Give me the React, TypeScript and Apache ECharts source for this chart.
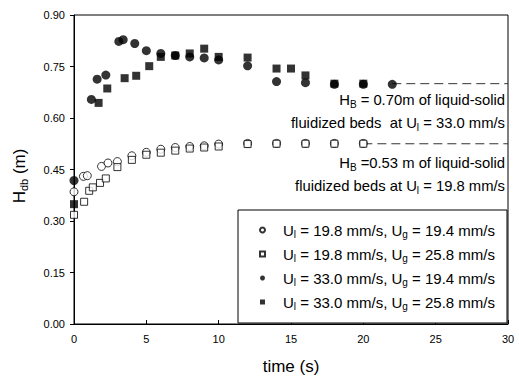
import React, { useEffect, useRef } from "react";
import * as echarts from "echarts";

const FONT = "'Liberation Sans', Arial, sans-serif";

// Ul = 19.8 mm/s, Ug = 19.4 mm/s (open circles)
const tOpenCircle = [0, 0.65, 0.92, 1.9, 2.35, 3.0, 4.0, 5.0, 6.0, 7.0, 8.0, 9.0, 10.0, 12, 14, 16, 18, 20];
const hOpenCircle = [0.385, 0.43, 0.432, 0.459, 0.469, 0.473, 0.49, 0.5, 0.509, 0.514, 0.517, 0.519, 0.524, 0.526, 0.526, 0.526, 0.526, 0.526];

// Ul = 19.8 mm/s, Ug = 25.8 mm/s (open squares)
const tOpenSquare = [0, 0.7, 1.05, 1.3, 1.8, 2.2, 3.0, 4.0, 5.0, 6.0, 7.0, 8.0, 9.0, 10.0, 12, 14, 16, 18, 20];
const hOpenSquare = [0.318, 0.356, 0.388, 0.398, 0.411, 0.424, 0.457, 0.478, 0.493, 0.499, 0.505, 0.511, 0.514, 0.517, 0.524, 0.525, 0.525, 0.525, 0.525];

// Ul = 33.0 mm/s, Ug = 19.4 mm/s (filled circles)
const tFilledCircle = [0, 1.2, 1.6, 2.2, 3.1, 3.4, 4.2, 5, 6, 7, 8, 9, 10, 12, 14, 16, 18, 20, 22];
const hFilledCircle = [0.418, 0.654, 0.713, 0.725, 0.823, 0.828, 0.817, 0.796, 0.788, 0.782, 0.778, 0.775, 0.769, 0.752, 0.706, 0.703, 0.698, 0.698, 0.698];

// Ul = 33.0 mm/s, Ug = 25.8 mm/s (filled squares)
const tFilledSquare = [0, 1.7, 2.3, 3.5, 4.3, 5.2, 6, 7, 8, 9, 10, 12, 14, 15, 16, 18, 20];
const hFilledSquare = [0.349, 0.644, 0.686, 0.716, 0.723, 0.751, 0.778, 0.782, 0.788, 0.802, 0.778, 0.776, 0.744, 0.744, 0.724, 0.7, 0.7];

// Bed height reference lines (H_B)
const bedLine070 = { t: [22, 30], h: [0.7, 0.7] };
const bedLine053 = { t: [20, 30], h: [0.525, 0.525] };

const ulValues = ["19.8", "19.8", "33.0", "33.0"];
const ugValues = ["19.4", "25.8", "19.4", "25.8"];
const seriesNames = ulValues.map((ul, i) => `Ul = ${ul} mm/s, Ug = ${ugValues[i]} mm/s`);

const xTicks = { min: 0, max: 30, interval: 5 };
const yTicks = { min: 0, max: 0.9, interval: 0.15 };

const zip = (t: number[], h: number[]) => t.map((v, i) => [v, h[i]]);

export default function App() {
  const ref = useRef<HTMLDivElement>(null);
  useEffect(() => {
    if (!ref.current) return;
    const chart = echarts.init(ref.current, undefined, { renderer: "svg" });
    const rich = {
      sp: { width: 13 },
      a: { fontSize: 15, fontFamily: FONT, color: "#000", lineHeight: 18 },
      s: { fontSize: 10, fontFamily: FONT, color: "#000", lineHeight: 10, padding: [8, 0, 0, 0] },
    };
    const legendLabel = (name: string) => {
      const i = seriesNames.indexOf(name);
      return `{sp|}{a|U}{s|l}{a| = ${ulValues[i]} mm/s, U}{s|g}{a| = ${ugValues[i]} mm/s}`;
    };
    const openStyle = { color: "#fff", borderColor: "#000", borderWidth: 1 };
    const filledStyle = { color: "#000", borderColor: "#000", borderWidth: 0 };
    const annotRich = {
      a: { fontSize: 14.8, fontFamily: FONT, color: "#000", lineHeight: 18 },
      s: { fontSize: 10, fontFamily: FONT, color: "#000", lineHeight: 10, padding: [8, 0, 0, 0] },
    };
    chart.setOption({
      animation: false,
      backgroundColor: "#fff",
      grid: { left: 74, right: 11, top: 15, bottom: 52, show: true, borderColor: "#000", borderWidth: 1 },
      xAxis: {
        type: "value",
        min: xTicks.min,
        max: xTicks.max,
        interval: xTicks.interval,
        name: "time (s)",
        nameLocation: "middle",
        nameGap: 34,
        nameTextStyle: { fontSize: 17, fontFamily: FONT, color: "#000" },
        axisLine: { lineStyle: { color: "#000", width: 1 } },
        axisTick: { inside: true, length: 4, lineStyle: { color: "#000" } },
        axisLabel: { fontSize: 11, fontFamily: FONT, color: "#000", margin: 9 },
        splitLine: { show: false },
      },
      yAxis: {
        type: "value",
        min: yTicks.min,
        max: yTicks.max,
        interval: yTicks.interval,
        axisLine: { show: true, lineStyle: { color: "#000", width: 1 } },
        axisTick: { show: true, inside: false, length: 4, lineStyle: { color: "#000" } },
        axisLabel: { fontSize: 11, fontFamily: FONT, color: "#000", margin: 9, formatter: (v: number) => v.toFixed(2) },
        splitLine: { show: false },
      },
      legend: {
        orient: "vertical",
        left: 238,
        top: 210,
        padding: [11, 12, 12, 21],
        itemGap: 6,
        itemWidth: 5,
        itemHeight: 5,
        borderColor: "#000",
        borderWidth: 1,
        backgroundColor: "#fff",
        data: seriesNames.map((n, i) => ({ name: n, icon: i % 2 === 0 ? "circle" : "rect" })),
        formatter: legendLabel,
        textStyle: { rich },
      },
      graphic: [
        {
          type: "text",
          x: 19,
          y: 176,
          rotation: Math.PI / 2,
          style: {
            text: "{a|H}{s|db}{a| (m)}",
            rich: {
              a: { fontSize: 17, fontFamily: FONT, color: "#000", lineHeight: 20 },
              s: { fontSize: 11, fontFamily: FONT, color: "#000", lineHeight: 11, padding: [9, 0, 0, 0] },
            },
            align: "center",
            verticalAlign: "middle",
          },
        },
        {
          type: "text",
          x: 505,
          y: 100,
          style: { text: "{a|H}{s|B}{a| = 0.70m of liquid-solid}", rich: annotRich, align: "right", verticalAlign: "middle" },
        },
        {
          type: "text",
          x: 505,
          y: 123,
          style: { text: "{a|fluidized beds  at U}{s|l}{a| = 33.0 mm/s}", rich: annotRich, align: "right", verticalAlign: "middle" },
        },
        {
          type: "text",
          x: 505,
          y: 163,
          style: { text: "{a|H}{s|B}{a| =0.53 m of liquid-solid}", rich: annotRich, align: "right", verticalAlign: "middle" },
        },
        {
          type: "text",
          x: 505,
          y: 186,
          style: { text: "{a|fluidized beds at U}{s|l}{a| = 19.8 mm/s}", rich: annotRich, align: "right", verticalAlign: "middle" },
        },
      ],
      series: [
        {
          type: "line",
          data: zip(bedLine070.t, bedLine070.h),
          symbol: "none",
          lineStyle: { color: "#333", width: 1, type: [9, 5] },
          silent: true,
          z: 1,
        },
        {
          type: "line",
          data: zip(bedLine053.t, bedLine053.h),
          symbol: "none",
          lineStyle: { color: "#333", width: 1, type: [9, 5] },
          silent: true,
          z: 1,
        },
        {
          name: seriesNames[0],
          type: "scatter",
          symbol: "circle",
          symbolSize: 8,
          itemStyle: openStyle,
          data: zip(tOpenCircle, hOpenCircle),
          z: 3,
        },
        {
          name: seriesNames[1],
          type: "scatter",
          symbol: "rect",
          symbolSize: 7,
          itemStyle: openStyle,
          data: zip(tOpenSquare, hOpenSquare),
          z: 4,
        },
        {
          name: seriesNames[2],
          type: "scatter",
          symbol: "circle",
          symbolSize: 9,
          itemStyle: filledStyle,
          data: zip(tFilledCircle, hFilledCircle),
          z: 3,
        },
        {
          name: seriesNames[3],
          type: "scatter",
          symbol: "rect",
          symbolSize: 8,
          itemStyle: filledStyle,
          data: zip(tFilledSquare, hFilledSquare),
          z: 4,
        },
      ],
    });
    return () => chart.dispose();
  }, []);
  return <div ref={ref} style={{ width: 519, height: 380, position: "absolute", left: 0, top: 0 }} />;
}
